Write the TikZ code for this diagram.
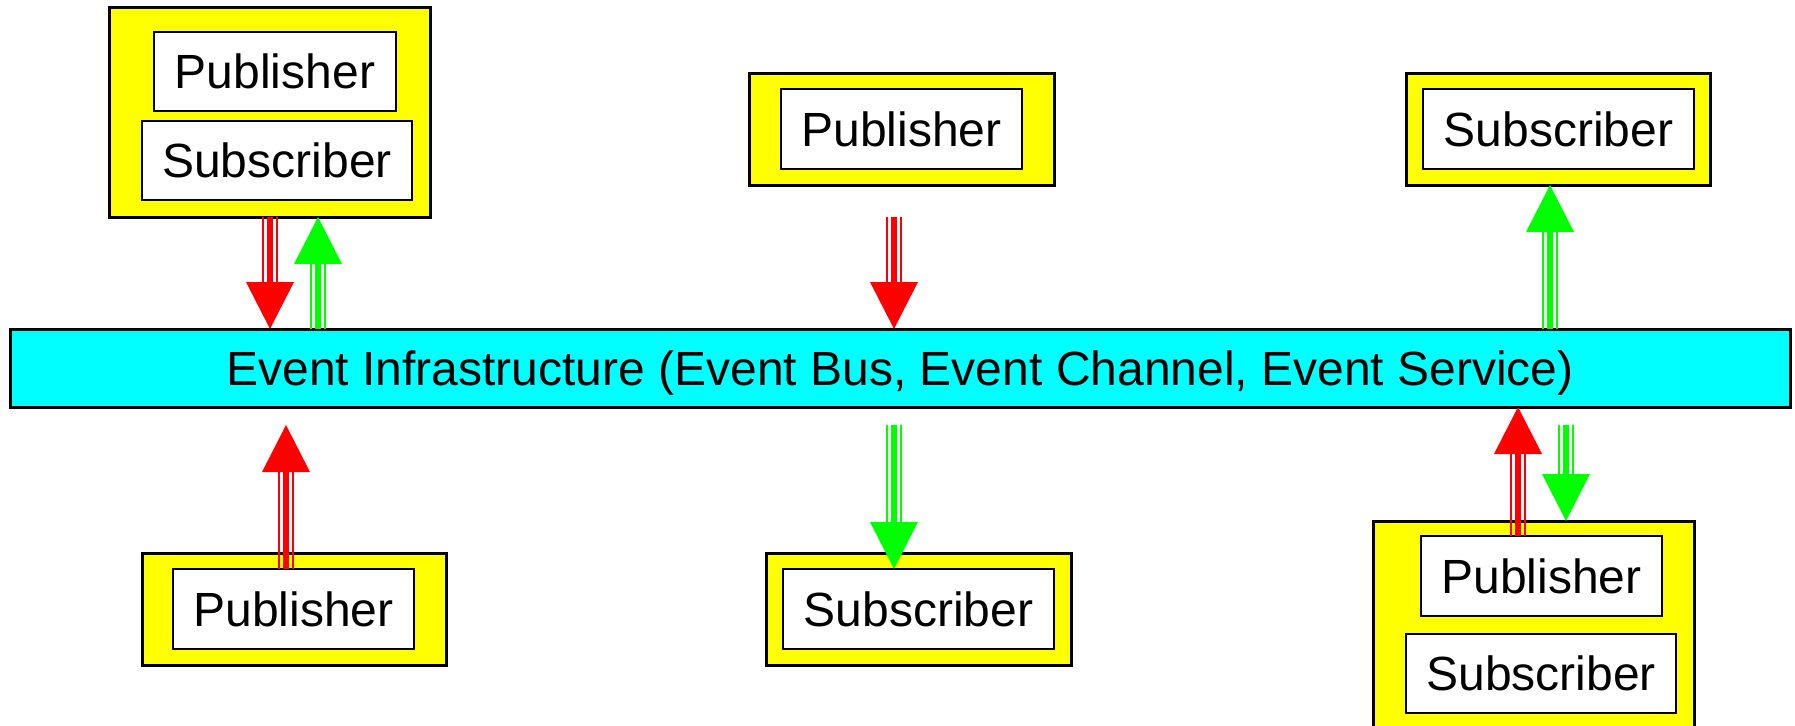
\documentclass[tikz,border=0pt]{standalone}
\usepackage{fontspec}
\setmainfont{Liberation Sans}
\usetikzlibrary{calc}

\definecolor{boxyellow}{RGB}{255,255,0}
\definecolor{buscyan}{RGB}{0,255,255}
\definecolor{pubred}{RGB}{255,0,0}
\definecolor{subgreen}{RGB}{0,255,0}

\tikzset{
  container/.style={rectangle, draw=black, fill=boxyellow, line width=3pt,
    inner sep=0pt, outer sep=0pt, anchor=north west},
  role/.style={rectangle, draw=black, fill=white, line width=2.5pt,
    inner sep=0pt, outer sep=0pt, anchor=north west,
    font=\fontsize{48}{58}\selectfont, text height=34.4pt, text depth=0pt},
  busbox/.style={rectangle, draw=black, fill=buscyan, line width=3pt,
    inner sep=0pt, outer sep=0pt, anchor=north west,
    font=\fontsize{48}{58}\selectfont, text height=34.4pt, text depth=0pt},
}

% Event flow: three-stripe shaft with a solid triangular head
% #1 colour, #2 tail, #3 tip
\newcommand\flowarrow[3]{%
  \coordinate (ft) at (#2);
  \coordinate (fh) at (#3);
  \coordinate (fb) at ($(fh)!47pt!(ft)$);
  \draw[#1, line width=6pt] (ft) -- (fb);
  \draw[#1, line width=2pt] ($(ft)!7pt!90:(fb)$) -- ($(fb)!7pt!-90:(ft)$);
  \draw[#1, line width=2pt] ($(ft)!7pt!-90:(fb)$) -- ($(fb)!7pt!90:(ft)$);
  \fill[#1] (fh) -- ($(fb)!24pt!90:(fh)$) -- ($(fb)!24pt!-90:(fh)$) -- cycle;
}

\begin{document}
\begin{tikzpicture}[x=1pt, y=-1pt]
  \useasboundingbox (0,0) rectangle (1795,725);
  \clip (0,0) rectangle (1795,725);

  % event infrastructure
  \node[busbox, minimum width=1780pt, minimum height=78pt] (bus) at (10,329)
    {Event Infrastructure (Event Bus, Event Channel, Event Service)};

  % top row
  \node[container, minimum width=321pt, minimum height=209pt] (tl) at (109,8) {};
  \node[role, minimum width=242pt, minimum height=79pt] (tlpub) at (154,32) {Publisher};
  \node[role, minimum width=270pt, minimum height=79pt] (tlsub) at (142,121) {Subscriber};

  \node[container, minimum width=305pt, minimum height=112pt] (tm) at (749,73) {};
  \node[role, minimum width=241pt, minimum height=80pt] (tmpub) at (781,89) {Publisher};

  \node[container, minimum width=304pt, minimum height=112pt] (tr) at (1406,73) {};
  \node[role, minimum width=271pt, minimum height=80pt] (trsub) at (1423,89) {Subscriber};

  % bottom row
  \node[container, minimum width=304pt, minimum height=112pt] (bl) at (142,553) {};
  \node[role, minimum width=241pt, minimum height=80pt] (blpub) at (173,569) {Publisher};

  \node[container, minimum width=305pt, minimum height=112pt] (bm) at (766,553) {};
  \node[role, minimum width=271pt, minimum height=80pt] (bmsub) at (783,569) {Subscriber};

  \node[container, minimum width=321pt, minimum height=209pt] (br) at (1373,521) {};
  \node[role, minimum width=241pt, minimum height=80pt] (brpub) at (1421,536) {Publisher};
  \node[role, minimum width=270pt, minimum height=79pt] (brsub) at (1406,634) {Subscriber};

  % free ends of detached flows
  \coordinate (tmout) at (894,217);
  \coordinate (blin) at (286,425);
  \coordinate (bmout) at (894,425);
  \coordinate (brout) at (1566,425);

  % published events (red) and delivered events (green)
  \flowarrow{pubred}{tl.south -| 270,0}{bus.north -| 270,0}
  \flowarrow{subgreen}{bus.north -| 318,0}{tl.south -| 318,0}
  \flowarrow{pubred}{tmout}{bus.north -| tmout}
  \flowarrow{subgreen}{bus.north -| 1550,0}{tr.south -| 1550,0}
  \flowarrow{pubred}{blpub.north -| blin}{blin}
  \flowarrow{subgreen}{bmout}{bmsub.north -| bmout}
  \flowarrow{pubred}{brpub.north -| 1518,0}{bus.south -| 1518,0}
  \flowarrow{subgreen}{brout}{br.north -| brout}
\end{tikzpicture}
\end{document}
